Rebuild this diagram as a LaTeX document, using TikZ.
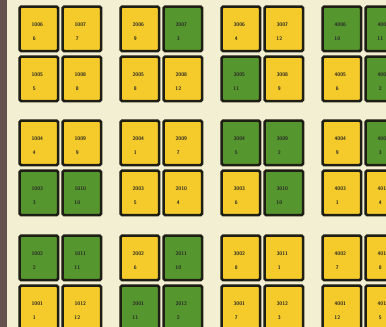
\documentclass[tikz,border=0pt]{standalone}
\usetikzlibrary{calc}
\definecolor{bg}{HTML}{F2EFD2}
\definecolor{ty}{HTML}{F4CB2A}
\definecolor{tg}{HTML}{56962E}
\definecolor{edgec}{HTML}{1E1E14}
\definecolor{strip}{HTML}{65524F}
\tikzset{
  tile/.style={draw=edgec, line width=2.6pt, rounded corners=1.5pt,
    minimum width=38.5pt, minimum height=44.5pt, inner sep=0pt},
  num/.style={font=\sffamily\bfseries\fontsize{5.2}{5.2}\selectfont,
    text=black!85, inner sep=0pt}
}
\begin{document}
\begin{tikzpicture}[x=1pt,y=1pt]
\useasboundingbox (0,0) rectangle (386,-327);
\clip (0,0) rectangle (386,-327);
\fill[bg] (0,0) rectangle (386,-327);
\fill[strip] (0,0) rectangle (6.5,-327);
\foreach \x/\y/\u/\l/\c in {
  17/4/1006/6/ty, 60/4/1007/7/ty, 17/54/1005/5/ty, 60/54/1008/8/ty,
  118/4/2006/9/ty, 161/4/2007/3/tg, 118/54/2005/8/ty, 161/54/2008/12/ty,
  219/4/3006/4/ty, 262/4/3007/12/ty, 219/54/3005/11/tg, 262/54/3008/9/ty,
  320/4/4006/10/tg, 363/4/4007/11/tg, 320/54/4005/6/ty, 363/54/4008/2/tg,
  17/118/1004/4/ty, 60/118/1009/9/ty, 17/168/1003/3/tg, 60/168/1010/10/tg,
  118/118/2004/1/ty, 161/118/2009/7/ty, 118/168/2003/5/ty, 161/168/2010/4/ty,
  219/118/3004/5/tg, 262/118/3009/2/tg, 219/168/3003/6/ty, 262/168/3010/10/tg,
  320/118/4004/9/ty, 363/118/4009/3/tg, 320/168/4003/1/ty, 363/168/4010/4/ty,
  17/233/1002/2/tg, 60/233/1011/11/tg, 17/283/1001/1/ty, 60/283/1012/12/ty,
  118/233/2002/6/ty, 161/233/2011/10/tg, 118/283/2001/11/tg, 161/283/2012/2/tg,
  219/233/3002/8/ty, 262/233/3011/1/ty, 219/283/3001/7/ty, 262/283/3012/3/ty,
  320/233/4002/7/ty, 363/233/4011/8/ty, 320/283/4001/12/ty, 363/283/4012/5/ty}
{
  \node[tile, fill=\c, anchor=north west] (t\u) at (\x+1.3,-\y-1.3) {};
  \node[num] (u\u) at ($(t\u.north west)+(19,-19)$) {\u};
  \node[num] (l\u) at ($(t\u.north west)+(16,-33)$) {\l};
}
\end{tikzpicture}
\end{document}
